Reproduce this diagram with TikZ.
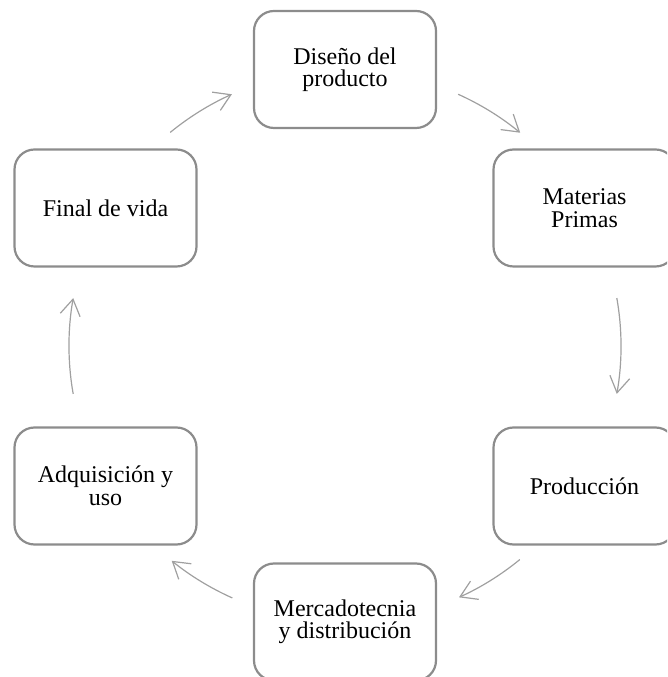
\documentclass[tikz,border=0pt]{standalone}
\usepackage{fontspec}
\setmainfont{Liberation Serif}
\usetikzlibrary{arrows.meta,calc}
\definecolor{boxline}{HTML}{8C8C8C}
\definecolor{flowline}{HTML}{A0A0A0}
\begin{document}
\begin{tikzpicture}[x=1pt,y=1pt,
  stage/.style={draw=boxline, line width=2.2pt, rounded corners=20pt,
    minimum width=182pt, minimum height=117pt, align=center,
    font=\fontsize{24}{22.5}\selectfont, text=black, fill=white},
  flow/.style={draw=flowline, line width=1.2pt,
    -{Straight Barb[length=16pt, width=20pt, line width=1.2pt]}}]
  \useasboundingbox (0,0) rectangle (667,677);
  \clip (0,0) rectangle (667,677);
  \coordinate (C) at (345,331);
  \def\R{276pt}

  % stages of the life cycle
  \node[stage] (dis) at (345,607.5) {Diseño del\\producto};
  \node[stage] (mat) at (584.5,469) {Materias\\Primas};
  \node[stage] (pro) at (584.5,191) {Producción};
  \node[stage] (mer) at (345,55) {Mercadotecnia\\y distribución};
  \node[stage] (adq) at (105.5,191) {Adquisición y\\uso};
  \node[stage] (fin) at (105.5,469) {Final de vida};

  % arc start points on the cycle circle
  \coordinate (s1) at ($(C)+(65.8:\R)$);
  \coordinate (s2) at ($(C)+(10:\R)$);
  \coordinate (s3) at ($(C)+(-50.7:\R)$);
  \coordinate (s4) at ($(C)+(-114.1:\R)$);
  \coordinate (s5) at ($(C)+(190:\R)$);
  \coordinate (s6) at ($(C)+(129.3:\R)$);

  % clockwise arrows between the stages
  \draw[flow] (s1) arc[start angle=65.8, end angle=50.6, radius=\R];
  \draw[flow] (s2) arc[start angle=10, end angle=-10, radius=\R];
  \draw[flow] (s3) arc[start angle=-50.7, end angle=-65.6, radius=\R];
  \draw[flow] (s4) arc[start angle=-114.1, end angle=-128.9, radius=\R];
  \draw[flow] (s5) arc[start angle=190, end angle=170, radius=\R];
  \draw[flow] (s6) arc[start angle=129.3, end angle=114.2, radius=\R];
\end{tikzpicture}
\end{document}
